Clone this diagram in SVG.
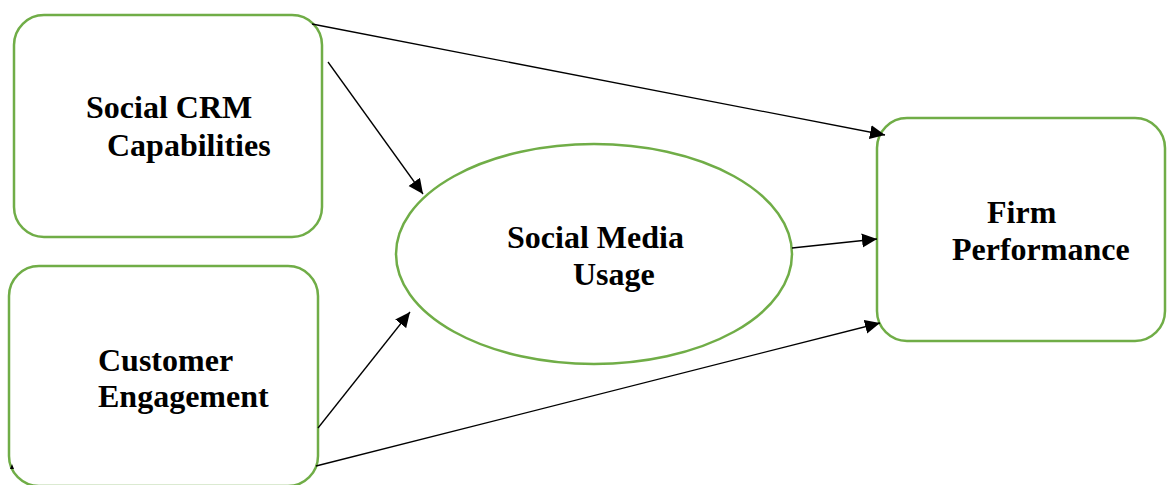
<svg xmlns="http://www.w3.org/2000/svg" width="1167" height="485" viewBox="0 0 1167 485">
  <style>
    .node { fill: #ffffff; stroke: #70ad47; stroke-width: 2.5; }
    .label { font-family: "Liberation Serif", "Times New Roman", serif; font-weight: bold; font-size: 32px; fill: #000000; }
    .edge { fill: none; stroke: #000000; stroke-width: 1.3; marker-end: url(#arrow); }
  </style>
  <defs>
    <marker id="arrow" markerUnits="userSpaceOnUse" markerWidth="16" markerHeight="16" viewBox="0 0 16 16" refX="15" refY="8" orient="auto">
      <path d="M0,1 L15,8 L0,15 Z" fill="#000000"/>
    </marker>
  </defs>
  <rect width="1167" height="485" fill="#ffffff"/>

  <g id="social-crm">
    <rect class="node" x="14" y="15" width="308" height="222" rx="30" ry="30"/>
    <text class="label" x="86" y="118">Social CRM</text>
    <text class="label" x="107" y="156">Capabilities</text>
  </g>

  <g id="customer-engagement">
    <rect class="node" x="9" y="266" width="309" height="220" rx="30" ry="30"/>
    <text class="label" x="98" y="371">Customer</text>
    <text class="label" x="98" y="407">Engagement</text>
  </g>

  <g id="social-media-usage">
    <ellipse class="node" cx="594" cy="254" rx="198" ry="110"/>
    <text class="label" x="507" y="248">Social Media</text>
    <text class="label" x="573" y="285">Usage</text>
  </g>

  <g id="firm-performance">
    <rect class="node" x="877" y="118" width="288" height="223" rx="30" ry="30"/>
    <text class="label" x="987" y="223">Firm</text>
    <text class="label" x="952" y="260">Performance</text>
  </g>

  <g id="connectors">
    <line class="edge" x1="312" y1="24" x2="885" y2="135"/>
    <line class="edge" x1="328" y1="62" x2="423" y2="194"/>
    <line class="edge" x1="318" y1="428" x2="410" y2="312"/>
    <line class="edge" x1="316" y1="466" x2="880" y2="323"/>
    <line class="edge" x1="792" y1="248" x2="877" y2="239"/>
    <path d="M10,469 L12,464 L14,469 Z" fill="#000000"/>
  </g>
</svg>
